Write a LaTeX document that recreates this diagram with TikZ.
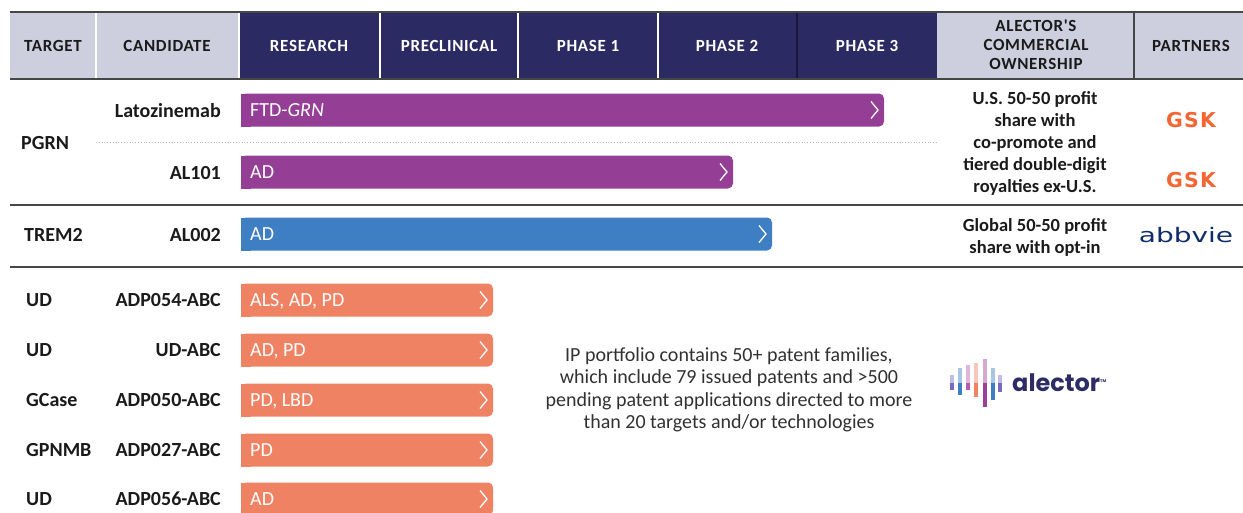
\documentclass[tikz,border=0pt]{standalone}
\usepackage{fontspec}
\setmainfont{Carlito}
\newfontfamily\hdrfont[LetterSpace=4]{Carlito}
\newfontfamily\gskfont[LetterSpace=6]{DejaVu Sans}
\newfontfamily\abbfont[FakeStretch=1.4]{DejaVu Sans}
\newfontfamily\alcfont{Poppins}

\definecolor{hdrgrey}{RGB}{205,207,222}
\definecolor{hdrnavy}{RGB}{43,42,99}
\definecolor{navyline}{RGB}{24,24,60}
\definecolor{rulegrey}{RGB}{70,70,70}
\definecolor{dotgrey}{RGB}{185,185,185}
\definecolor{ink}{RGB}{26,26,26}
\definecolor{pgrnbar}{RGB}{148,62,150}
\definecolor{trembar}{RGB}{62,126,195}
\definecolor{adpbar}{RGB}{240,130,100}
\definecolor{gskorange}{RGB}{243,102,51}
\definecolor{abbnavy}{RGB}{15,45,105}
\definecolor{alcnavy}{RGB}{45,44,100}
\definecolor{alcblue}{RGB}{62,126,195}
\definecolor{alcpurple}{RGB}{155,63,152}
\definecolor{alcpink}{RGB}{180,92,176}
\definecolor{alclav}{RGB}{120,105,190}

\begin{document}
\begin{tikzpicture}[x=1pt,y=-1pt,
    hdr/.style={font=\hdrfont\bfseries\fontsize{17}{19}\selectfont, align=center, inner sep=0pt},
    lbl/.style={font=\bfseries\fontsize{20}{22}\selectfont, text=ink, inner sep=0pt},
    bartxt/.style={font=\fontsize{20}{22}\selectfont, text=white, inner sep=0pt, anchor=base west},
    own/.style={font=\bfseries\fontsize{18.5}{22}\selectfont, text=ink, align=center, inner sep=0pt},
    ipnote/.style={font=\fontsize{20}{22.5}\selectfont, text=ink!90, align=center, inner sep=0pt}]
  \useasboundingbox (0,0) rectangle (1243,512);
  \clip (0,0) rectangle (1243,512);

  % header band
  \fill[hdrgrey] (10,13) rectangle (1243,78);
  \fill[hdrnavy] (239,13) rectangle (937,78);
  \foreach \x in {96,239,380,518,658}
    \draw[white, line width=1.5] (\x,13) -- (\x,78);
  \draw[navyline, line width=1.2] (797,13) -- (797,78);
  \draw[rulegrey, line width=1.2] (1134,13) -- (1134,78);
  \draw[rulegrey, line width=2] (10,12) -- (1243,12);
  \draw[rulegrey, line width=2] (10,79) -- (1243,79);

  \node[hdr, text=ink] (htarget) at (53,46) {TARGET};
  \node[hdr, text=ink] (hcand) at (167,46) {CANDIDATE};
  \node[hdr, text=white] (hres) at (309,46) {RESEARCH};
  \node[hdr, text=white] (hpre) at (449,46) {PRECLINICAL};
  \node[hdr, text=white] (hph1) at (588,46) {PHASE 1};
  \node[hdr, text=white] (hph2) at (727,46) {PHASE 2};
  \node[hdr, text=white] (hph3) at (867,46) {PHASE 3};
  \node[hdr, text=ink] (hown) at (1036,45) {ALECTOR'S\\COMMERCIAL\\OWNERSHIP};
  \node[hdr, text=ink] (hpart) at (1191,46) {PARTNERS};

  % row rules
  \draw[dotgrey, dotted, line width=0.8] (96,142) -- (937,142);
  \draw[rulegrey, line width=2] (10,205) -- (1243,205);
  \draw[rulegrey, line width=2] (10,267) -- (1243,267);

  % pipeline bars
  \foreach \nm/\y/\xe/\col/\txt in {lato/110/884/pgrnbar/{FTD-\textit{GRN}},
      al101/172/733/pgrnbar/AD, al002/234/772/trembar/AD,
      adp054/300/493/adpbar/{ALS, AD, PD}, udabc/350/493/adpbar/{AD, PD},
      adp050/400/493/adpbar/{PD, LBD}, adp027/450/493/adpbar/PD,
      adp056/499/493/adpbar/AD}{
    \fill[\col, rounded corners=5] (241,\y-16.5) rectangle (\xe,\y+16.5);
    \fill[\col] (241,\y-16.5) rectangle (251,\y+16.5);
    \draw[white, line width=1.3] (\xe-13,\y-8.5) -- (\xe-6,\y) -- (\xe-13,\y+8.5);
    \node[bartxt] (\nm) at (250,\y+6.5) {\txt};
  }

  % targets and candidates
  \node[lbl, anchor=base west] (tpgrn) at (21,149) {PGRN};
  \node[lbl, anchor=base east] (clato) at (221,117) {Latozinemab};
  \node[lbl, anchor=base east] (cal101) at (221,179) {AL101};
  \node[lbl, anchor=base west] (ttrem) at (24,241) {TREM2};
  \node[lbl, anchor=base east] (cal002) at (221,241) {AL002};
  \foreach \nm/\t/\c/\y in {054/UD/ADP054-ABC/300, ud/UD/UD-ABC/350,
      050/GCase/ADP050-ABC/400, 027/GPNMB/ADP027-ABC/450, 056/UD/ADP056-ABC/499}{
    \node[lbl, anchor=base west] (t\nm) at (26,\y+6.5) {\t};
    \node[lbl, anchor=base east] (c\nm) at (221,\y+6.5) {\c};
  }

  % ownership and partners
  \node[own] (ownpgrn) at (1035,143) {U.S. 50-50 profit\\share with\\co-promote and\\tiered double-digit\\royalties ex-U.S.};
  \node[own] (owntrem) at (1035,237) {Global 50-50 profit\\share with opt-in};
  \node[font=\gskfont\bfseries\fontsize{20.5}{20.5}\selectfont, text=gskorange, inner sep=0pt] (gsk1) at (1191,120) {GSK};
  \node[font=\gskfont\bfseries\fontsize{20.5}{20.5}\selectfont, text=gskorange, inner sep=0pt] (gsk2) at (1191,180) {GSK};
  \node[font=\abbfont\fontsize{20}{20}\selectfont, text=abbnavy, inner sep=0pt] (abbvie) at (1186,235) {abbvie};

  % ip note and alector logo
  \node[ipnote] (ip) at (729,390) {IP portfolio contains 50+ patent families,\\which include 79 issued patents and >500\\pending patent applications directed to more\\than 20 targets and/or technologies};
  \foreach \x/\top/\bot/\c in {952/375/390/alclav, 960/368/395/alcblue, 968/365/390/alcpink,
      976/363/397/adpbar, 985/359/407/alcpurple, 993/368/400/alcblue, 1000/375/392/alclav}{
    \fill[\c!45] (\x-2,\top) rectangle (\x+2,383);
    \fill[\c] (\x-2,383) rectangle (\x+2,\bot);
  }
  \node[font=\alcfont\bfseries\fontsize{24}{24}\selectfont, text=alcnavy, anchor=base west, inner sep=0pt] (alector) at (1012,391) {alector\raisebox{9pt}{\fontsize{4}{4}\selectfont TM}};
\end{tikzpicture}
\end{document}
